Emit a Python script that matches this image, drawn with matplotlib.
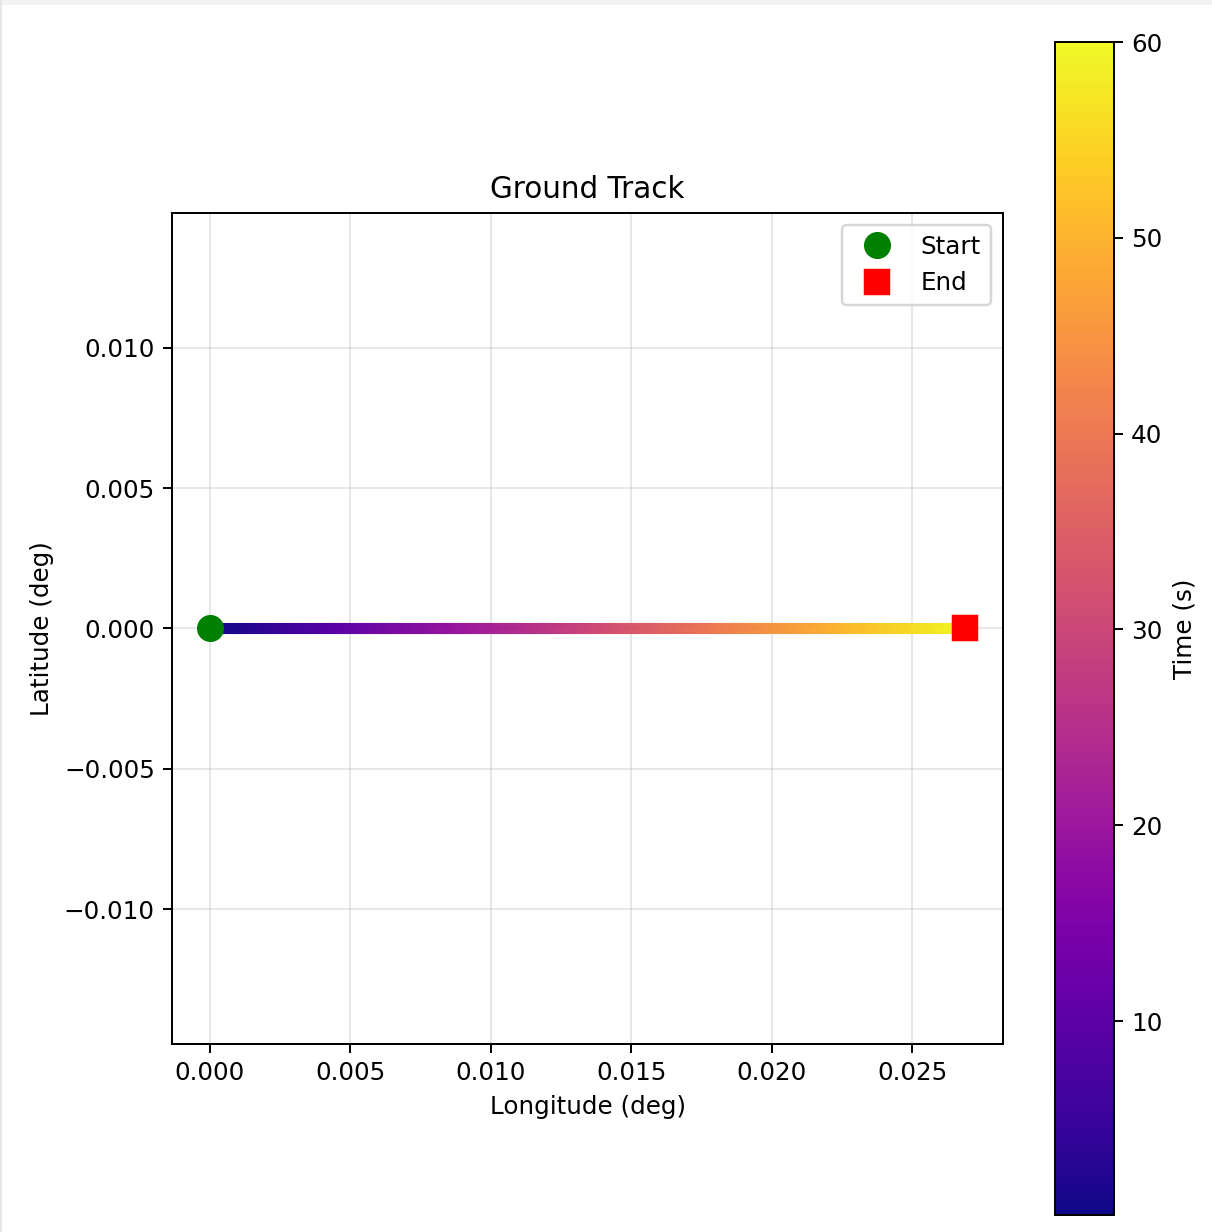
import numpy as np
import matplotlib
matplotlib.use("Agg")
import matplotlib.pyplot as plt
from matplotlib.patches import Rectangle

# ground track samples
time_s = [0.1, 10, 20, 30, 40, 50, 60]
lon_deg = [0.0, 0.0045, 0.0090, 0.0134, 0.0179, 0.0224, 0.0269]
lat_deg = [0.0, 0.0, 0.0, 0.0, 0.0, 0.0, 0.0]

dpi = 177
fig, ax = plt.subplots(figsize=(1212 / dpi, 1232 / dpi), dpi=dpi)
fig.subplots_adjust(left=172 / 1212, right=1211 / 1212, top=1 - 42 / 1232, bottom=1 - 1215 / 1232)

# track coloured by time: thin band shaded with gouraud so colour runs smoothly
lon = np.array(lon_deg)
lat = np.array(lat_deg)
t = np.array(time_s)
half_w = 0.00018
X = np.vstack([lon, lon])
Y = np.vstack([lat - half_w, lat + half_w])
C = np.vstack([t, t])
mesh = ax.pcolormesh(X, Y, C, shading="gouraud", cmap="plasma",
                     vmin=t.min(), vmax=t.max(), zorder=2)
mesh.sticky_edges.x[:] = []
mesh.sticky_edges.y[:] = []

ax.plot([lon[0]], [lat[0]], "o", color="green", markersize=10, label="Start", zorder=3)
ax.plot([lon[-1]], [lat[-1]], "s", color="red", markersize=10, label="End", zorder=3)

ax.autoscale_view()
x0, x1 = ax.get_xlim()
yc = lat.mean()
ax.set_ylim(yc - (x1 - x0) / 2, yc + (x1 - x0) / 2)
ax.set_aspect("equal", adjustable="box")

ax.set_xlabel("Longitude (deg)")
ax.set_ylabel("Latitude (deg)")
ax.set_title("Ground Track")
ax.grid(True, alpha=0.3)
ax.legend(loc="upper right")

cbar = fig.colorbar(mesh, ax=ax)
cbar.set_label("Time (s)")

# notebook frame around the output
fig.patches.append(Rectangle((0, 1 - 5 / 1232), 1, 5 / 1232, transform=fig.transFigure,
                             facecolor="#f2f2f2", edgecolor="none"))
fig.patches.append(Rectangle((0, 0), 2 / 1212, 1, transform=fig.transFigure,
                             facecolor="#e6e6e6", edgecolor="none"))

fig.savefig("out.png", dpi=dpi)
